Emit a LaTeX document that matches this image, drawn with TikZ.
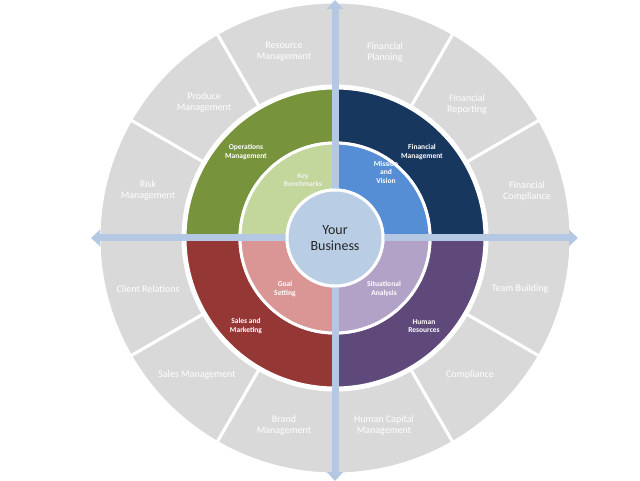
\documentclass[tikz,border=0pt]{standalone}
\usepackage{fontspec}
\setmainfont{Carlito}
\usetikzlibrary{calc,arrows.meta}
\tikzset{
  seg/.style={draw=white,line width=3pt},
  outlab/.style={text=white,font=\fontsize{10}{11}\selectfont,align=center},
  ringlab/.style={text=white,font=\bfseries\fontsize{7.5}{8.5}\selectfont,align=center},
  axis/.style={draw=axisblue,line width=7pt,{Triangle[width=16pt,length=9pt]}-{Triangle[width=16pt,length=9pt]},shorten <=-1pt}
}
\definecolor{gr}{HTML}{D9D9D9}
\definecolor{axisblue}{HTML}{B4C8E4}
\definecolor{q1}{HTML}{17375E}\definecolor{q2}{HTML}{77933C}
\definecolor{q3}{HTML}{953735}\definecolor{q4}{HTML}{5F497A}
\definecolor{i1}{HTML}{558ED5}\definecolor{i2}{HTML}{C3D69B}
\definecolor{i3}{HTML}{D99694}\definecolor{i4}{HTML}{B3A2C7}
\definecolor{cc}{HTML}{B9CDE5}
\newcommand{\sector}[5]{% start end rin rout color
  \draw[seg,fill=#5] ($(c)+(#1:#4)$) arc[start angle=#1,end angle=#2,radius=#4]
    -- ($(c)+(#2:#3)$) arc[start angle=#2,end angle=#1,radius=#3] -- cycle;}
\begin{document}
\begin{tikzpicture}[x=1pt,y=1pt]
\useasboundingbox[fill=white] (0,0) rectangle (640,480);
\coordinate (c) at (335,242);
\foreach \k in {0,...,11}{\sector{\k*30}{\k*30+30}{152}{236}{gr}}
\sector{0}{90}{95}{150}{q1}
\sector{90}{180}{95}{150}{q2}
\sector{180}{270}{95}{150}{q3}
\sector{270}{360}{95}{150}{q4}
\sector{0}{90}{48}{95}{i1}
\sector{90}{180}{48}{95}{i2}
\sector{180}{270}{48}{95}{i3}
\sector{270}{360}{48}{95}{i4}
% axes
\coordinate (top) at (335,480);
\coordinate (bot) at (335,0);
\coordinate (lft) at (92,242);
\coordinate (rgt) at (578,242);
\draw[axis] (bot) -- (top);
\draw[axis] (lft) -- (rgt);
\fill[cc,draw=white,line width=3pt] (c) circle (48);
\node[font=\fontsize{14}{16}\selectfont,text=black!85,align=center] (yb) at (c) {Your\\Business};
% outer labels
\node[outlab] (o1) at (284,428) {Resource\\Management};
\node[outlab] (o2) at (385,428) {Financial\\Planning};
\node[outlab] (o3) at (204,378) {Produce\\Management};
\node[outlab] (o4) at (467,376) {Financial\\Reporting};
\node[outlab] (o5) at (148,290) {Risk\\Management};
\node[outlab] (o6) at (527,289) {Financial\\Compliance};
\node[outlab] (o7) at (148,191) {Client Relations};
\node[outlab] (o8) at (520,191) {Team Building};
\node[outlab] (o9) at (197,105) {Sales Management};
\node[outlab] (o10) at (470,105) {Compliance};
\node[outlab] (o11) at (284,55) {Brand\\Management};
\node[outlab] (o12) at (384,55) {Human Capital\\Management};
% ring labels
\node[ringlab] (r2) at (246,328) {Operations\\Management};
\node[ringlab] (r1) at (422,328) {Financial\\Management};
\node[ringlab] (r3) at (246,154) {Sales and\\Marketing};
\node[ringlab] (r4) at (424,154) {Human\\Resources};
\node[ringlab,text=white!95!black] (k1) at (303,300) {Key\\Benchmarks};
\node[ringlab] (k2) at (386,308) {Mission\\and\\Vision};
\node[ringlab] (k3) at (285,191) {Goal\\Setting};
\node[ringlab] (k4) at (384,191) {Situational\\Analysis};
\end{tikzpicture}
\end{document}
